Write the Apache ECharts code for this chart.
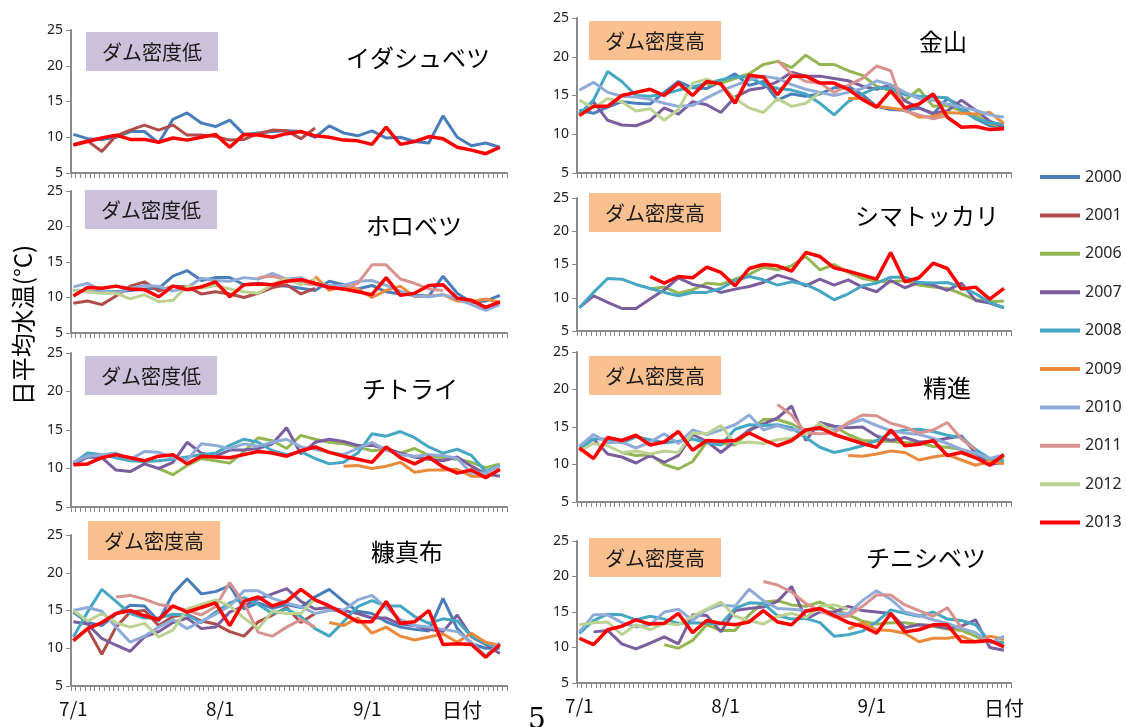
<!DOCTYPE html>
<html lang="ja">

<head>
    <meta charset="UTF-8">
    <title>日平均水温</title>
    <script src="https://cdn.jsdelivr.net/npm/echarts@6/dist/echarts.min.js"></script>
    <style>
        html,
        body {
            margin: 0px;
            background-color: white;
        }

        #chart {
            width: 1126px;
            height: 727px;
        }
    </style>
</head>

<body>
    <div id="chart"></div>
    <script>
        const _ = null;
        // values read every 3 days: 7/1, 7/4, ... 9/28
        const sampleDays = [0, 3, 6, 9, 12, 15, 18, 21, 24, 27, 30, 33, 36, 39, 42, 45, 48, 51, 54, 57, 60, 63, 66, 69, 72, 75, 78, 81, 84, 87, 90];
        const monthDays = [['7', 31], ['8', 31], ['9', 30]];
        const labelDays = [0, 31, 62];
        const years = ['2000', '2001', '2006', '2007', '2008', '2009', '2010', '2011', '2012', '2013'];
        const yearColors = ['#4a7ebb', '#b04c49', '#93b653', '#7b5e9e', '#45a7c2', '#ea8a3c', '#8facd9', '#d8928f', '#bcd292', '#ff0000'];

        // イダシュベツ
        const idashubetsu2000 = [10.4, 9.8, 9.7, 10.0, 10.8, 10.8, 9.2, 12.5, 13.4, 12.0, 11.5, 12.4, 10.4, 10.6, 10.8, 10.9, 10.8, 10.0, 11.6, 10.6, 10.2, 10.9, 9.9, 10.0, 9.4, 9.2, 13.0, 10.0, 8.8, 9.2, 8.6];
        const idashubetsu2001 = [9.0, 9.5, 8.0, 10.2, 11.0, 11.7, 11.0, 11.7, 10.3, 10.3, 10.1, 9.6, 9.7, 10.5, 11.0, 10.9, 9.8, 11.3, _, _, _, _, _, _, _, _, _, _, _, _, _];
        const idashubetsu2013 = [8.9, 9.4, 9.9, 10.3, 9.7, 9.7, 9.3, 9.9, 9.6, 10.0, 10.4, 8.6, 10.4, 10.3, 10.0, 10.5, 10.8, 10.2, 10.0, 9.6, 9.5, 9.0, 11.4, 9.0, 9.4, 10.1, 9.8, 8.6, 8.2, 7.7, 8.6];

        // ホロベツ
        const horobetsu2000 = [11.0, 10.8, 10.8, 10.8, 11.0, 11.2, 11.3, 13.0, 13.8, 12.4, 12.8, 12.8, 11.8, 12.0, 11.8, 11.6, 11.3, 11.0, 12.3, 11.8, 11.2, 11.7, 10.8, 10.5, 10.3, 10.2, 13.0, 10.6, 9.3, 9.5, 10.3];
        const horobetsu2001 = [9.2, 9.5, 9.0, 10.2, 11.6, 12.2, 10.9, 11.6, 11.5, 10.5, 10.8, 10.5, 10.0, 10.6, 11.4, 11.8, 10.5, 11.3, _, _, _, _, _, _, _, _, _, _, _, _, _];
        const horobetsu2009 = [_, _, _, _, _, _, _, _, _, _, _, _, _, _, _, _, _, 13.0, 11.0, 11.6, 11.2, 10.0, 11.0, 11.6, 10.1, 10.2, 10.4, 9.5, 9.4, 9.8, 9.3];
        const horobetsu2010 = [11.5, 12.0, 11.0, 10.6, 11.3, 11.7, 11.6, 10.9, 11.4, 12.7, 12.4, 12.3, 12.8, 12.6, 13.4, 12.6, 12.8, 11.8, 11.7, 11.7, 12.3, 12.4, 11.7, 10.9, 10.2, 10.1, 10.4, 9.8, 9.0, 8.2, 9.0];
        const horobetsu2011 = [_, _, _, _, _, _, _, _, _, _, _, _, _, 12.8, 13.0, 12.5, 12.0, 11.8, 11.5, 11.2, 12.0, 14.6, 14.6, 12.6, 12.0, 11.2, 11.0, _, _, _, _];
        const horobetsu2012 = [11.0, 10.8, 10.6, 10.6, 9.8, 10.4, 9.4, 9.6, 11.6, 11.3, 11.7, 11.2, 10.8, 10.6, 11.8, 12.7, 11.8, 12.6, _, _, _, _, _, _, _, _, _, _, _, _, _];
        const horobetsu2013 = [10.2, 11.4, 11.3, 11.6, 11.2, 11.1, 10.1, 11.6, 11.1, 11.5, 12.2, 10.1, 11.8, 11.9, 11.8, 12.3, 12.5, 12.0, 11.4, 11.2, 10.8, 10.4, 12.8, 10.3, 10.6, 11.7, 11.8, 9.9, 9.6, 8.6, 9.4];

        // チトライ
        const chitorai2006 = [_, _, _, _, _, _, 10.0, 9.2, 10.4, 11.3, 11.0, 10.7, 12.2, 14.0, 13.6, 12.6, 14.3, 13.8, 13.4, 13.2, 12.8, 12.3, 12.5, 12.0, 12.6, 11.7, 11.4, 11.2, 10.8, 10.1, 10.6];
        const chitorai2007 = [10.5, 11.5, 11.4, 9.8, 9.6, 10.6, 10.0, 10.8, 13.4, 12.0, 11.6, 12.4, 12.4, 12.6, 13.2, 15.3, 11.9, 13.4, 13.8, 13.5, 13.0, 13.0, 12.6, 12.0, 11.5, 11.2, 11.0, 11.5, 10.3, 9.3, 9.0];
        const chitorai2008 = [10.7, 12.0, 11.8, 11.4, 11.0, 10.9, 11.0, 11.2, 11.5, 11.8, 12.0, 13.0, 13.8, 13.4, 12.3, 11.8, 12.2, 11.3, 10.6, 10.8, 12.0, 14.5, 14.2, 14.8, 14.0, 12.8, 12.0, 12.5, 11.7, 9.6, 10.4];
        const chitorai2009 = [_, _, _, _, _, _, _, _, _, _, _, _, _, _, _, _, _, _, _, 10.3, 10.4, 10.0, 10.3, 10.8, 9.5, 9.8, 9.8, 9.9, 9.0, 9.0, 9.8];
        const chitorai2010 = [10.8, 11.6, 11.8, 12.0, 11.2, 12.2, 12.1, 11.4, 11.1, 13.2, 13.0, 12.6, 13.2, 12.9, 13.4, 13.8, 12.8, 12.5, 12.1, 11.8, 12.6, 13.4, 12.4, 11.8, 11.6, 11.8, 11.7, 11.3, 9.4, 9.4, 10.4];
        const chitorai2013 = [10.5, 10.6, 11.4, 11.8, 11.4, 11.0, 11.6, 11.8, 10.6, 11.6, 11.5, 11.4, 11.8, 12.2, 12.0, 11.6, 12.3, 12.8, 12.1, 11.6, 11.2, 10.8, 12.8, 11.4, 10.6, 11.5, 10.2, 9.4, 9.8, 8.8, 9.9];

        // 糠真布
        const nukabira2000 = [14.8, 13.4, 13.0, 14.5, 15.7, 15.6, 13.6, 17.2, 19.2, 17.2, 17.5, 18.3, 15.2, 16.0, 15.3, 15.8, 15.4, 16.8, 17.8, 16.2, 14.9, 14.6, 13.5, 12.8, 12.5, 12.3, 16.6, 12.6, 10.6, 10.0, 10.0];
        const nukabira2001 = [11.0, 12.6, 9.2, 12.8, 14.8, 15.0, 13.0, 14.2, 14.5, 13.6, 13.2, 12.2, 11.6, 13.5, 14.4, 15.4, 13.4, 14.6, _, _, _, _, _, _, _, _, _, _, _, _, _];
        const nukabira2007 = [13.5, 13.2, 11.3, 10.4, 9.6, 11.5, 12.2, 13.4, 14.0, 12.6, 12.8, 14.8, 15.6, 16.5, 17.2, 17.9, 16.2, 15.2, 15.4, 15.0, 14.6, 14.0, 14.0, 13.2, 13.0, 12.5, 12.2, 14.4, 11.5, 10.5, 9.3];
        const nukabira2008 = [11.5, 14.8, 17.8, 16.2, 14.6, 14.0, 14.0, 14.5, 14.4, 13.4, 14.8, 16.0, 16.7, 15.8, 14.6, 15.2, 14.2, 12.6, 11.6, 13.5, 15.5, 16.3, 15.6, 15.6, 14.2, 13.3, 13.9, 13.6, 11.6, 10.6, 10.1];
        const nukabira2009 = [_, _, _, _, _, _, _, _, _, _, _, _, _, _, _, _, _, _, 13.4, 13.0, 14.0, 12.0, 12.8, 11.6, 11.1, 11.5, 11.9, 10.8, 12.0, 10.8, 10.4];
        const nukabira2010 = [15.0, 15.4, 14.9, 12.8, 10.8, 11.6, 12.8, 13.8, 12.6, 13.6, 14.5, 15.6, 17.6, 17.6, 16.6, 16.0, 15.5, 14.6, 15.0, 15.0, 16.4, 17.0, 15.4, 13.8, 13.0, 12.8, 12.5, 12.2, 10.8, 9.0, 10.7];
        const nukabira2011 = [_, _, _, 16.8, 17.0, 16.5, 15.8, 15.5, 15.0, 14.4, 15.5, 18.7, 16.0, 12.1, 11.6, 12.8, 13.8, 12.8, _, _, _, _, _, _, _, _, _, _, _, _, _];
        const nukabira2012 = [15.0, 13.6, 14.6, 13.4, 12.8, 13.3, 11.5, 12.4, 15.2, 15.8, 16.4, 15.6, 14.0, 12.6, 14.9, 14.6, 14.6, 16.6, _, _, _, _, _, _, _, _, _, _, _, _, _];
        const nukabira2013 = [11.0, 12.6, 13.4, 14.6, 15.0, 14.3, 13.8, 15.6, 14.8, 15.4, 16.0, 13.0, 16.2, 16.8, 15.6, 16.2, 17.8, 16.4, 15.6, 14.6, 13.5, 13.5, 16.2, 13.3, 13.5, 15.0, 10.5, 10.6, 10.5, 8.8, 10.5];

        // 金山
        const kanayama2000 = [13.1, 12.7, 13.5, 14.2, 14.0, 13.9, 15.4, 16.8, 16.0, 15.9, 16.8, 17.8, 16.3, 16.8, 14.4, 15.2, 14.9, 15.2, 16.0, 16.2, 15.1, 13.6, 13.2, 13.1, 13.4, 12.6, 14.6, 13.6, 12.0, 11.1, 10.9];
        const kanayama2006 = [_, _, _, _, _, _, _, _, _, 16.4, 16.6, 17.2, 17.8, 19.0, 19.4, 18.6, 20.2, 19.0, 19.0, 18.2, 17.6, 16.2, 15.6, 14.4, 15.8, 13.6, 13.7, 13.0, 12.4, 11.4, 10.8];
        const kanayama2007 = [12.6, 14.2, 11.8, 11.2, 11.1, 11.8, 13.4, 12.6, 14.2, 13.8, 12.8, 14.8, 15.7, 16.0, 16.8, 18.0, 17.5, 17.5, 17.2, 16.9, 16.2, 15.8, 16.4, 14.3, 13.4, 12.7, 13.0, 14.4, 13.1, 11.7, 10.9];
        const kanayama2008 = [12.6, 14.4, 18.1, 16.8, 15.0, 14.9, 15.2, 15.7, 16.1, 16.6, 17.0, 17.4, 17.4, 16.4, 15.9, 15.7, 15.2, 14.0, 12.5, 14.2, 15.2, 16.0, 15.9, 15.1, 14.9, 14.8, 14.7, 13.1, 12.0, 11.5, 11.3];
        const kanayama2009 = [_, _, _, _, _, _, _, _, _, _, _, _, _, _, _, _, _, _, _, 14.6, 14.6, 13.6, 13.4, 13.1, 12.2, 12.3, 12.8, 12.7, 12.6, 12.8, 11.4];
        const kanayama2010 = [15.7, 16.7, 15.4, 14.9, 14.8, 14.5, 14.0, 13.6, 13.7, 14.7, 15.6, 16.3, 17.0, 17.5, 17.2, 16.4, 15.8, 15.4, 15.0, 15.4, 15.9, 16.9, 16.4, 15.4, 14.6, 14.4, 13.9, 13.5, 13.1, 12.5, 12.2];
        const kanayama2011 = [_, _, _, _, _, _, _, _, _, _, _, _, _, _, 19.5, 17.8, 16.8, 16.6, 15.4, 16.3, 17.2, 18.8, 18.2, 13.0, 12.5, 12.0, 12.4, _, _, _, _];
        const kanayama2012 = [14.4, 13.4, 14.6, 14.2, 13.0, 13.3, 11.8, 13.2, 16.6, 17.1, 16.4, 14.6, 13.4, 12.8, 14.6, 13.6, 14.0, 15.4, _, _, _, _, _, _, _, _, _, _, _, _, _];
        const kanayama2013 = [12.4, 13.6, 13.6, 15.0, 15.4, 15.8, 15.0, 16.6, 15.0, 16.8, 16.5, 14.0, 17.6, 17.4, 15.1, 17.5, 17.5, 16.6, 16.6, 15.8, 14.5, 13.5, 15.6, 13.4, 13.9, 15.2, 12.2, 10.9, 11.0, 10.6, 10.7];

        // シマトッカリ
        const shimatokkari2006 = [_, _, _, _, _, 11.3, 11.6, 10.7, 11.2, 12.2, 12.0, 12.8, 13.5, 14.6, 14.2, 14.8, 16.2, 14.2, 15.0, 13.8, 12.9, 12.5, 12.4, 12.6, 11.9, 11.6, 11.4, 10.6, 9.7, 9.4, 9.5];
        const shimatokkari2007 = [8.5, 10.3, 9.3, 8.4, 8.4, 9.8, 11.2, 13.0, 12.0, 11.6, 10.8, 11.3, 11.7, 12.3, 13.4, 12.8, 11.8, 12.8, 11.9, 12.7, 11.6, 10.9, 12.6, 11.5, 12.3, 11.9, 11.1, 12.2, 9.6, 9.2, 8.5];
        const shimatokkari2008 = [8.5, 10.8, 12.9, 12.8, 12.0, 11.4, 10.8, 10.3, 10.8, 10.8, 11.4, 12.6, 13.2, 12.7, 11.9, 12.4, 12.0, 11.0, 9.7, 10.6, 11.8, 12.2, 13.1, 13.1, 12.3, 12.2, 12.3, 11.6, 10.6, 9.3, 8.5];
        const shimatokkari2013 = [_, _, _, _, _, 13.2, 12.2, 13.2, 13.0, 14.6, 13.8, 11.8, 14.4, 15.0, 14.8, 14.0, 16.8, 16.2, 14.5, 14.0, 13.4, 12.8, 16.8, 12.4, 13.0, 15.2, 14.4, 11.3, 11.6, 9.8, 11.4];

        // 精進
        const shojin2006 = [_, _, _, 11.6, 11.2, 11.3, 10.0, 9.4, 10.4, 13.0, 12.8, 12.6, 14.4, 16.0, 16.0, 15.4, 14.4, 15.2, 15.1, 14.0, 13.2, 13.1, 13.1, 12.9, 12.9, 12.4, 12.3, 12.0, 11.4, 10.6, 10.7];
        const shojin2007 = [12.4, 13.4, 11.4, 11.0, 10.2, 11.2, 10.3, 11.2, 14.0, 13.1, 11.6, 13.1, 14.6, 15.4, 16.2, 17.8, 13.2, 15.6, 15.1, 14.9, 15.0, 13.8, 13.2, 13.6, 13.0, 13.1, 13.5, 13.8, 11.5, 10.0, 10.3];
        const shojin2008 = [12.0, 13.4, 13.4, 12.9, 13.7, 13.3, 12.9, 13.1, 13.4, 12.9, 12.6, 14.7, 15.3, 15.2, 15.3, 14.9, 13.6, 12.3, 11.6, 12.0, 12.5, 13.2, 14.2, 14.6, 14.7, 14.4, 13.9, 13.6, 12.0, 10.8, 10.4];
        const shojin2009 = [_, _, _, _, _, _, _, _, _, _, _, _, _, _, _, _, _, _, _, 11.2, 11.1, 11.4, 11.8, 11.6, 10.6, 11.0, 11.3, 10.6, 9.9, 10.4, 10.1];
        const shojin2010 = [12.4, 14.0, 12.9, 13.0, 12.2, 13.0, 14.1, 12.8, 14.6, 14.0, 14.6, 15.3, 16.6, 14.6, 15.2, 14.6, 14.6, 14.7, 14.6, 15.4, 16.0, 15.2, 14.5, 14.2, 14.0, 13.5, 12.8, 12.0, 11.5, 10.8, 11.3];
        const shojin2011 = [_, _, _, _, _, _, _, _, _, _, _, _, _, _, 18.0, 16.6, 14.2, 14.1, 14.2, 15.6, 16.6, 16.5, 15.5, 15.0, 14.2, 14.6, 15.6, 13.4, 12.0, _, _];
        const shojin2012 = [11.8, 12.8, 12.5, 11.6, 11.8, 11.4, 11.8, 11.6, 14.2, 14.1, 15.2, 12.8, 13.0, 12.8, 13.3, 13.5, 14.2, 15.5, 14.2, _, _, _, _, _, _, _, _, _, _, _, _];
        const shojin2013 = [12.2, 10.8, 13.6, 13.2, 13.9, 12.6, 13.0, 14.4, 11.9, 13.2, 13.1, 13.2, 14.2, 13.3, 12.5, 13.2, 14.6, 14.9, 14.0, 13.4, 12.8, 12.3, 14.6, 12.5, 12.7, 13.2, 11.2, 11.6, 10.9, 9.9, 11.3];

        // チニシベツ
        const chinishibetsu2006 = [_, _, _, _, _, _, 10.4, 9.9, 11.0, 13.2, 12.4, 12.4, 14.6, 16.4, 16.6, 16.0, 15.8, 16.4, 15.4, 14.6, 13.7, 13.3, 13.5, 13.5, 13.2, 13.0, 12.6, 12.4, 11.6, 10.7, 10.8];
        const chinishibetsu2007 = [_, 12.2, 12.4, 10.5, 9.8, 10.6, 11.5, 10.5, 14.6, 14.5, 12.2, 15.2, 15.5, 15.7, 16.5, 18.6, 14.0, 15.0, 15.0, 15.8, 15.2, 15.0, 14.8, 12.8, 13.2, 13.1, 12.7, 13.0, 13.9, 10.0, 9.6];
        const chinishibetsu2008 = [12.0, 13.8, 14.7, 14.6, 13.9, 14.4, 14.0, 13.4, 13.5, 13.4, 13.3, 15.5, 16.3, 16.2, 14.5, 14.0, 14.1, 13.5, 11.6, 11.8, 12.3, 13.6, 15.3, 14.8, 14.4, 15.0, 14.0, 13.8, 13.2, 10.8, 10.6];
        const chinishibetsu2009 = [_, _, _, _, _, _, _, _, _, _, _, _, _, _, _, _, _, _, _, 12.6, 13.5, 12.5, 12.4, 12.0, 10.8, 11.3, 11.3, 11.6, 10.8, 11.6, 11.2];
        const chinishibetsu2010 = [12.2, 14.6, 14.6, 13.5, 12.9, 13.2, 15.0, 15.4, 13.8, 15.3, 16.0, 15.8, 18.2, 16.6, 15.5, 15.4, 15.2, 15.5, 14.6, 14.8, 16.6, 18.0, 16.8, 15.0, 14.5, 13.9, 13.4, 12.7, 12.1, 10.6, 11.6];
        const chinishibetsu2011 = [_, _, _, _, _, _, _, _, _, _, _, _, _, 19.3, 18.8, 17.8, 16.2, 15.2, 14.3, 14.4, 15.8, 17.4, 17.4, 16.0, 15.2, 14.4, 15.6, 12.8, _, _, _];
        const chinishibetsu2012 = [13.2, 13.5, 13.6, 11.8, 13.2, 12.5, 13.4, 13.2, 14.4, 15.4, 16.4, 14.4, 13.8, 13.3, 14.4, 14.8, 14.2, 15.8, 16.0, 15.4, _, _, _, _, _, _, _, _, _, _, _];
        const chinishibetsu2013 = [11.3, 10.4, 12.5, 13.0, 13.9, 13.3, 13.4, 14.8, 12.1, 13.8, 13.4, 13.2, 13.6, 15.2, 13.6, 13.2, 15.1, 15.5, 14.5, 13.5, 13.0, 12.0, 14.8, 12.2, 12.5, 13.2, 13.2, 10.8, 10.8, 11.0, 10.1];

        const panels = [
            { name: 'イダシュベツ', dam: '低', grid: { left: 71, top: 30, width: 436, height: 143 }, box: [86, 32], title: [418, 58],
              lines: { '2000': idashubetsu2000, '2001': idashubetsu2001, '2013': idashubetsu2013 } },
            { name: 'ホロベツ', dam: '低', grid: { left: 71, top: 191, width: 436, height: 142 }, box: [85, 190], title: [414, 226],
              lines: { '2000': horobetsu2000, '2001': horobetsu2001, '2009': horobetsu2009, '2010': horobetsu2010, '2011': horobetsu2011, '2012': horobetsu2012, '2013': horobetsu2013 } },
            { name: 'チトライ', dam: '低', grid: { left: 71, top: 353, width: 436, height: 154 }, box: [85, 356], title: [410, 389],
              lines: { '2006': chitorai2006, '2007': chitorai2007, '2008': chitorai2008, '2009': chitorai2009, '2010': chitorai2010, '2013': chitorai2013 } },
            { name: '糠真布', dam: '高', grid: { left: 71, top: 535, width: 436, height: 151 }, box: [88, 521], title: [407, 552], bottom: true,
              lines: { '2000': nukabira2000, '2001': nukabira2001, '2007': nukabira2007, '2008': nukabira2008, '2009': nukabira2009, '2010': nukabira2010, '2011': nukabira2011, '2012': nukabira2012, '2013': nukabira2013 } },
            { name: '金山', dam: '高', grid: { left: 577, top: 18, width: 434, height: 155 }, box: [589, 21], title: [943, 42],
              lines: { '2000': kanayama2000, '2006': kanayama2006, '2007': kanayama2007, '2008': kanayama2008, '2009': kanayama2009, '2010': kanayama2010, '2011': kanayama2011, '2012': kanayama2012, '2013': kanayama2013 } },
            { name: 'シマトッカリ', dam: '高', grid: { left: 577, top: 198, width: 434, height: 133 }, box: [589, 193], title: [927, 216],
              lines: { '2006': shimatokkari2006, '2007': shimatokkari2007, '2008': shimatokkari2008, '2013': shimatokkari2013 } },
            { name: '精進', dam: '高', grid: { left: 577, top: 352, width: 434, height: 150 }, box: [589, 356], title: [947, 388],
              lines: { '2006': shojin2006, '2007': shojin2007, '2008': shojin2008, '2009': shojin2009, '2010': shojin2010, '2011': shojin2011, '2012': shojin2012, '2013': shojin2013 } },
            { name: 'チニシベツ', dam: '高', grid: { left: 577, top: 541, width: 434, height: 142 }, box: [589, 538], title: [926, 558], bottom: true,
              lines: { '2006': chinishibetsu2006, '2007': chinishibetsu2007, '2008': chinishibetsu2008, '2009': chinishibetsu2009, '2010': chinishibetsu2010, '2011': chinishibetsu2011, '2012': chinishibetsu2012, '2013': chinishibetsu2013 } }
        ];

        // category axis: one slot per day, 7/1 .. 9/30
        const days = [];
        monthDays.forEach(([m, n]) => { for (let d = 1; d <= n; d++) days.push(m + '/' + d); });

        const jp = '"Noto Sans CJK JP", "Noto Sans", sans-serif';
        const axisGray = '#8a8a8a';

        const grids = [], xAxes = [], yAxes = [], series = [], graphics = [];
        panels.forEach((p, i) => {
            grids.push(p.grid);
            xAxes.push({
                type: 'category', gridIndex: i, data: days, boundaryGap: true,
                axisLine: { lineStyle: { color: axisGray, width: 2 } },
                axisTick: { show: true, interval: 0, length: 5, lineStyle: { color: axisGray, width: 1 } },
                axisLabel: {
                    show: !!p.bottom, interval: (idx) => labelDays.includes(idx), margin: 13,
                    fontSize: 19, color: '#111', fontFamily: jp
                },
                splitLine: { show: false }
            });
            yAxes.push({
                type: 'value', gridIndex: i, min: 5, max: 25, interval: 5,
                axisLine: { show: true, lineStyle: { color: axisGray, width: 2 } },
                axisTick: { show: true, length: 5, lineStyle: { color: axisGray } },
                axisLabel: { fontSize: 14, color: '#222', margin: 8, fontFamily: '"Noto Sans", sans-serif' },
                splitLine: { show: false }
            });
            years.forEach((y, k) => {
                const vals = p.lines[y];
                if (!vals) return;
                series.push({
                    name: y, type: 'line', xAxisIndex: i, yAxisIndex: i,
                    data: sampleDays.map((d, j) => [d, vals[j] == null ? null : vals[j]]),
                    showSymbol: false, symbol: 'none', connectNulls: false,
                    color: yearColors[k],
                    lineStyle: { width: y === '2013' ? 3.5 : 3 },
                    z: y === '2013' ? 5 : 2
                });
            });
            // dam density tag and station name
            graphics.push({
                type: 'rect', left: p.box[0], top: p.box[1], shape: { width: 132, height: 39 },
                style: { fill: p.dam === '低' ? '#ccc1da' : '#fac090' }
            });
            graphics.push({
                type: 'text', x: p.box[0] + 66, y: p.box[1] + 20,
                style: { text: 'ダム密度' + p.dam, font: '20px ' + jp, fill: '#1a1a1a', align: 'center', verticalAlign: 'middle' }
            });
            graphics.push({
                type: 'text', x: p.title[0], y: p.title[1],
                style: { text: p.name, font: '24px ' + jp, fill: '#000', align: 'center', verticalAlign: 'middle' }
            });
        });

        graphics.push({
            type: 'text', x: 23, y: 325, rotation: Math.PI / 2,
            style: { text: '日平均水温(°C)', font: '24px ' + jp, fill: '#000', align: 'center', verticalAlign: 'middle' }
        });
        graphics.push({ type: 'text', x: 462, y: 710, style: { text: '日付', font: '20px ' + jp, fill: '#111', align: 'center', verticalAlign: 'middle' } });
        graphics.push({ type: 'text', x: 1004, y: 708, style: { text: '日付', font: '20px ' + jp, fill: '#111', align: 'center', verticalAlign: 'middle' } });
        graphics.push({ type: 'text', x: 537, y: 721, style: { text: '5', font: '28px "DejaVu Serif", serif', fill: '#000', align: 'center', verticalAlign: 'middle' } });

        const chart = echarts.init(document.getElementById('chart'));
        chart.setOption({
            animation: false,
            grid: grids,
            xAxis: xAxes,
            yAxis: yAxes,
            legend: {
                data: years, orient: 'vertical', left: 1040, top: 169, padding: 0,
                icon: 'rect', itemWidth: 40, itemHeight: 4, itemGap: 22.4,
                textStyle: { fontSize: 16, color: '#262626', lineHeight: 16, fontFamily: '"Noto Sans", sans-serif' }
            },
            series: series,
            graphic: graphics
        });
    </script>
</body>

</html>
